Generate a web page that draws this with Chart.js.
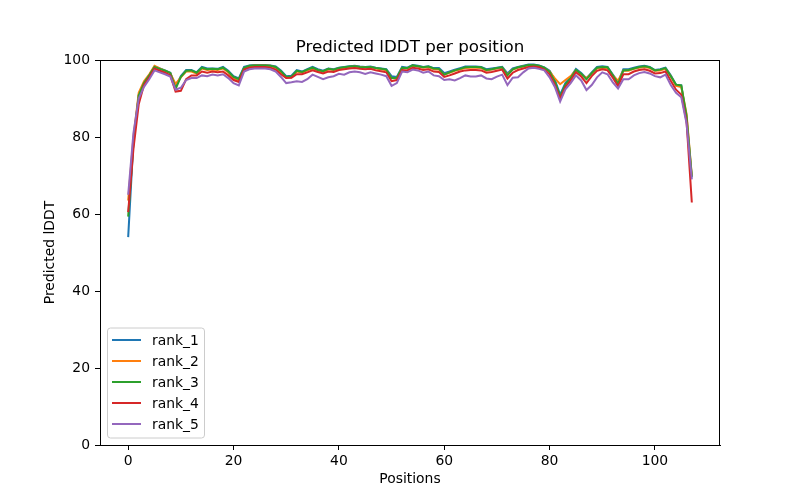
<!DOCTYPE html>
<html>
<head>
<meta charset="utf-8">
<script src="https://cdn.jsdelivr.net/npm/chart.js@4"></script>
<style>
  body { margin: 0; background: #fff; }
  #wrap { width: 800px; height: 500px; }
</style>
</head>
<body>
<div id="wrap"><canvas id="plddtChart"></canvas></div>
<script>
const positions = [0,1,2,3,4,5,6,7,8,9,10,11,12,13,14,15,16,17,18,19,20,21,22,23,24,25,26,27,28,29,30,31,32,33,34,35,36,37,38,39,40,41,42,43,44,45,46,47,48,49,50,51,52,53,54,55,56,57,58,59,60,61,62,63,64,65,66,67,68,69,70,71,72,73,74,75,76,77,78,79,80,81,82,83,84,85,86,87,88,89,90,91,92,93,94,95,96,97,98,99,100,101,102,103,104,105,106,107];

const rank1 = [54, 79, 91, 94, 96, 98.3, 97.8, 97.3, 96.7, 93,
  95.8, 97.4, 97.4, 96.8, 98.2, 97.8, 97.8, 97.7, 98.2, 97.2,
  95.8, 95.2, 98.2, 98.6, 98.7, 98.7, 98.7, 98.6, 98.3, 97.3,
  95.8, 95.9, 97.4, 97, 97.6, 98.2, 97.6, 97.2, 97.8, 97.6,
  98, 98.2, 98.4, 98.5, 98.3, 98.2, 98.3, 98, 97.8, 97.6,
  95.8, 95.6, 98.2, 98, 98.7, 98.5, 98.2, 98.4, 97.9, 97.9,
  96.6, 97, 97.5, 97.9, 98.3, 98.3, 98.3, 98.2, 97.6, 97.8,
  98, 98.2, 96.5, 97.8, 98.2, 98.5, 98.8, 98.8, 98.6, 98.1,
  97.2, 94.8, 91, 94, 95.6, 97.7, 96.6, 95.2, 96.8, 98.2,
  98.4, 98.2, 96.2, 94.2, 97.6, 97.6, 98, 98.3, 98.5, 98.2,
  97.4, 97.6, 98, 96, 93.6, 93.4, 84.5, 69.5];

const rank2 = [63.5, 80, 91.5, 94.5, 96.3, 98.5, 97.8, 97.2, 96.5, 93.8,
  95.5, 97, 97, 96.5, 97.8, 97.4, 97.5, 97.4, 97.8, 96.8,
  95.2, 94.5, 97.8, 98.4, 98.6, 98.6, 98.6, 98.5, 98, 96.8,
  95.4, 95.5, 97, 96.7, 97.3, 97.8, 97.3, 96.9, 97.6, 97.4,
  97.8, 98, 98.2, 98.3, 98.2, 98, 98.1, 97.8, 97.6, 97.3,
  95.3, 95.2, 97.9, 97.8, 98.5, 98.3, 98, 98.1, 97.6, 97.5,
  96.2, 96.7, 97.2, 97.5, 97.9, 98, 98, 97.9, 97.2, 97.5,
  97.8, 98, 96.2, 97.5, 98, 98.3, 98.6, 98.6, 98.4, 97.9,
  97, 95.2, 93.7, 94.8, 95.8, 97.3, 96.3, 95.3, 96.5, 97.8,
  98, 97.8, 96, 94.6, 97.2, 97.2, 97.7, 98, 98.2, 97.9,
  97.2, 97.3, 97.7, 95.8, 93.3, 93, 86, 70];

const rank3 = [59.3, 78.5, 90.8, 94, 96, 98.2, 97.7, 97.2, 96.6, 92.5,
  95.6, 97.2, 97.3, 96.7, 98, 97.6, 97.7, 97.6, 98, 97,
  95.6, 95, 98, 98.5, 98.6, 98.6, 98.6, 98.5, 98.2, 97.1,
  95.6, 95.7, 97.2, 96.9, 97.5, 98, 97.4, 97.1, 97.7, 97.5,
  97.9, 98.1, 98.3, 98.4, 98.2, 98.1, 98.2, 97.9, 97.7, 97.5,
  95.3, 95.4, 98, 97.9, 98.6, 98.4, 98.1, 98.3, 97.8, 97.7,
  96.2, 96.8, 97.3, 97.7, 98.1, 98.2, 98.2, 98.1, 97.4, 97.6,
  97.9, 98.1, 96, 97.6, 98.1, 98.4, 98.7, 98.7, 98.5, 98,
  97, 94.4, 90.5, 93.6, 95.3, 97.4, 96.4, 95, 96.6, 98,
  98.2, 98.1, 96, 93.8, 97.3, 97.4, 97.8, 98.2, 98.4, 98.1,
  97.3, 97.5, 97.9, 95.8, 93.6, 93.4, 85.5, 69.7];

const rank4 = [60.5, 77, 88.5, 93.5, 95.5, 97.8, 97.2, 96.7, 96, 91.8,
  92, 95, 96, 96, 97, 96.7, 97, 96.8, 97, 96,
  94.8, 94.3, 97.5, 98, 98.2, 98.2, 98.2, 98, 97.5, 96.3,
  95.3, 95.4, 96.3, 96.3, 96.8, 97.3, 96.9, 96.5, 97, 96.9,
  97.4, 97.6, 97.8, 97.9, 97.7, 97.6, 97.7, 97.3, 97.1, 96.8,
  94.5, 94.8, 97.4, 97.3, 98, 97.8, 97.4, 97.6, 97, 96.9,
  95.6, 96, 96.5, 97, 97.3, 97.4, 97.4, 97.3, 96.7, 96.9,
  97.2, 97.5, 95.2, 96.7, 97.4, 97.8, 98.2, 98.3, 98.1, 97.5,
  96.3, 93.5, 90, 93, 94.7, 96.8, 95.7, 94, 95.8, 97.2,
  97.6, 97.3, 95.4, 93.2, 96.3, 96.3, 97, 97.4, 97.6, 97.2,
  96.5, 96.6, 97, 94.6, 92.3, 91, 84, 63];

const rank5 = [65, 81, 90, 93, 95, 97.3, 96.8, 96.3, 95.7, 92.3,
  92.8, 94.8, 95.3, 95.3, 96, 95.8, 96.2, 96, 96.3, 95.3,
  94, 93.4, 97, 97.6, 97.8, 97.8, 97.8, 97.6, 97, 95.6,
  94, 94.2, 94.5, 94.3, 95, 96.2, 95.6, 95, 95.5, 95.8,
  96.4, 96.2, 96.8, 97, 96.8, 96.4, 96.8, 96.5, 96.2, 95.8,
  93.3, 94, 97, 96.8, 97.5, 97.3, 96.7, 97, 96, 95.8,
  94.8, 95, 94.7, 95.3, 96, 95.7, 95.7, 96, 95.2, 95,
  95.7, 96.2, 93.5, 95.4, 95.5, 96.8, 97.8, 98, 97.7, 97.3,
  95.5, 93, 89.2, 92.4, 94, 96, 94.7, 92.2, 93.5, 95.5,
  96.8, 96.3, 94.2, 92.6, 95, 95, 96, 96.6, 96.9, 96.5,
  95.8, 95.5, 96.2, 93.5, 91.5, 90.3, 83.5, 69];

const seriesNames = ["rank_1", "rank_2", "rank_3", "rank_4", "rank_5"];
const seriesColors = ["#1f77b4", "#ff7f0e", "#2ca02c", "#d62728", "#9467bd"];
const xTicks = [0, 20, 40, 60, 80, 100];
const yTicks = [0, 20, 40, 60, 80, 100];

const FONT = "'DejaVu Sans', sans-serif";

// matplotlib-like frame, title and legend
const extrasPlugin = {
  id: "extras",
  afterDatasetsDraw(chart) {
    const { ctx, chartArea: a } = chart;
    ctx.save();
    ctx.strokeStyle = "#000";
    ctx.lineWidth = 1;
    ctx.strokeRect(a.left + 0.5, a.top + 0.5, a.right - a.left - 1, a.bottom - a.top);

    ctx.fillStyle = "#000";
    ctx.font = "16.7px " + FONT;
    ctx.textAlign = "center";
    ctx.textBaseline = "alphabetic";
    ctx.fillText("Predicted lDDT per position", (a.left + a.right) / 2, a.top - 8);

    // legend box
    const bx = a.left + 7.5, by = 328, bw = 97, bh = 110;
    ctx.beginPath();
    ctx.roundRect(bx, by, bw, bh, 3);
    ctx.fillStyle = "rgba(255,255,255,0.8)";
    ctx.fill();
    ctx.strokeStyle = "#cccccc";
    ctx.stroke();
    ctx.font = "13.9px " + FONT;
    ctx.textAlign = "left";
    ctx.textBaseline = "middle";
    seriesNames.forEach((name, i) => {
      const y = 340 + i * 21;
      ctx.beginPath();
      ctx.moveTo(a.left + 12, y);
      ctx.lineTo(a.left + 41, y);
      ctx.strokeStyle = seriesColors[i];
      ctx.lineWidth = 2;
      ctx.stroke();
      ctx.fillStyle = "#000";
      ctx.fillText(name, a.left + 52, y + 1);
    });
    ctx.restore();
  },
};

const allSeries = [rank1, rank2, rank3, rank4, rank5];

new Chart(document.getElementById("plddtChart"), {
  type: "line",
  data: {
    datasets: allSeries.map((vals, i) => ({
      label: seriesNames[i],
      data: positions.map((p, j) => ({ x: p, y: vals[j] })),
      borderColor: seriesColors[i],
      borderWidth: 2,
      pointRadius: 0,
      tension: 0,
      order: 5 - i,
    })),
  },
  options: {
    responsive: true,
    maintainAspectRatio: false,
    animation: false,
    layout: { padding: { left: 40, right: 80, top: 60, bottom: 10 } },
    plugins: {
      legend: { display: false },
      title: { display: false },
      tooltip: { enabled: false },
    },
    scales: {
      x: {
        type: "linear",
        min: -5.35,
        max: 112.35,
        afterBuildTicks: (s) => { s.ticks = xTicks.map((v) => ({ value: v })); },
        afterFit: (s) => { s.height = 45; },
        grid: { drawOnChartArea: false, drawTicks: true, tickLength: 5, color: "#000" },
        border: { display: true, color: "#000" },
        ticks: { color: "#000", font: { family: FONT, size: 13.9 }, padding: 3, maxRotation: 0 },
        title: { display: true, text: "Positions", color: "#000", font: { family: FONT, size: 13.9 }, padding: { top: 2, bottom: 2 } },
      },
      y: {
        min: 0,
        max: 100,
        afterBuildTicks: (s) => { s.ticks = yTicks.map((v) => ({ value: v })); },
        afterFit: (s) => { s.width = 60; },
        grid: { drawOnChartArea: false, drawTicks: true, tickLength: 5, color: "#000" },
        border: { display: true, color: "#000" },
        ticks: { color: "#000", font: { family: FONT, size: 13.9 }, padding: 5 },
        title: { display: true, text: "Predicted lDDT", color: "#000", font: { family: FONT, size: 13.9 }, padding: { top: 2, bottom: 2 } },
      },
    },
  },
  plugins: [extrasPlugin],
});
</script>
</body>
</html>
